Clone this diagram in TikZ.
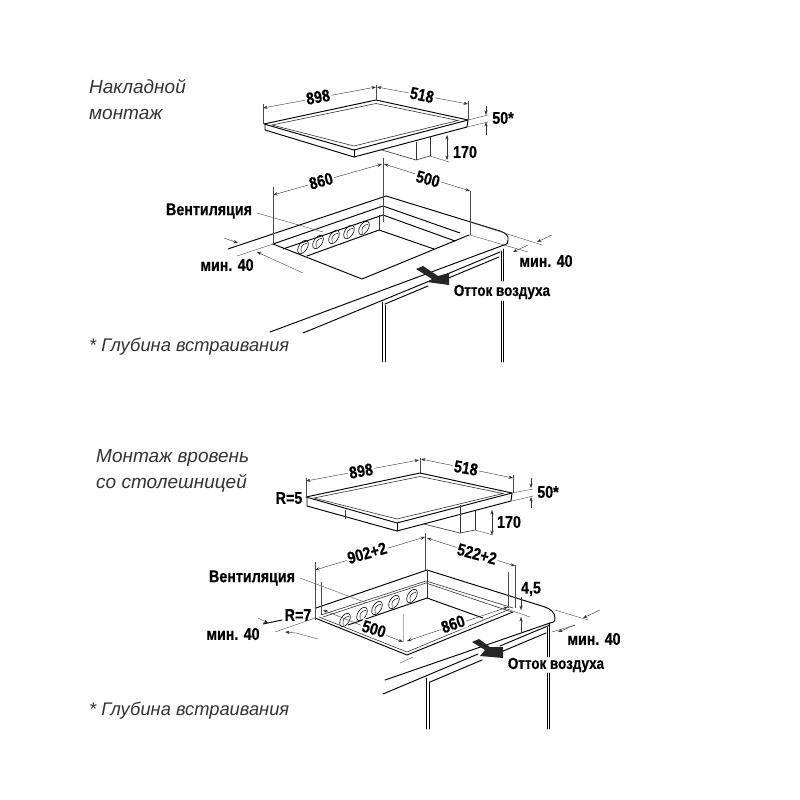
\documentclass[tikz,border=0pt]{standalone}
\usepackage{fontspec}
\setmainfont{Liberation Sans}
\newfontfamily\narrowfont[FakeStretch=0.84,BoldFeatures={FakeStretch=0.84,FakeBold=0.35}]{Liberation Sans}
\usetikzlibrary{arrows.meta}
\tikzset{
  obj/.style={line width=0.95pt,black,line cap=round,line join=round},
  thin obj/.style={line width=0.6pt,black!80},
  extl/.style={line width=0.4pt,black!70},
  dim/.style={line width=0.4pt,black!80,{Stealth[length=4.5pt,width=3.2pt]}-{Stealth[length=4.5pt,width=3.2pt]}},
  dimend/.style={line width=0.4pt,black!80,-{Stealth[length=4.5pt,width=3.2pt]}},
  lab/.style={font=\narrowfont\bfseries\fontsize{17}{19}\selectfont,inner sep=1.5pt,fill=white},
  labn/.style={font=\narrowfont\bfseries\fontsize{17}{19}\selectfont,inner sep=1pt},
  labair/.style={font=\narrowfont\bfseries\fontsize{16}{18}\selectfont,inner sep=1pt},
  title/.style={font=\itshape\fontsize{19}{26}\selectfont,align=left,anchor=north west,inner sep=0pt,black!80},
  foot/.style={font=\itshape\fontsize{18.3}{26}\selectfont,anchor=north west,inner sep=0pt,black!80},
  airflow/.style={fill=black!85,draw=none}
}
\newcommand{\vent}[2]{%
  \draw[line width=0.6pt,shift={(#1,#2)},rotate=58] (0,0) ellipse [x radius=7.4pt,y radius=4.2pt];
  \draw[line width=0.45pt,shift={(#1,#2)},rotate=58] (-5.5,1.5) .. controls (-2,-2.5) and (2,-2.5) .. (5.5,1.5);
}
\begin{document}
\begin{tikzpicture}[x=1pt,y=-1pt]
\useasboundingbox (0,0) rectangle (800,800);
\fill[white] (0,0) rectangle (800,800);

% ===== upper: hob =====
\draw[obj] (264,124) -- (376,100) -- (468,120) -- (354,150) -- cycle;
\draw[thin obj] (272,125) -- (376,103.5) -- (458,120.5) -- (354,146) -- cycle;
\draw[obj] (265,125) -- (265,130) -- (354,157) -- (467,127) -- (468,120);
\draw[obj] (354,150) -- (354,157);
\draw[thin obj] (382,150) -- (416,160) -- (430,156);
\draw[thin obj] (416,142) -- (416,160);
\draw[thin obj] (430,137) -- (430,156);
\draw[extl] (430,156) -- (449,162);
\draw[dim] (447,135) -- (447,160);
\draw[extl] (468,120) -- (488,115);
\draw[extl] (467,127) -- (488,122);
\draw[dimend] (486,106) -- (486,115);
\draw[dimend] (486,135) -- (486,122);
\draw[extl] (263,124) -- (263,104);
\draw[extl] (376,100) -- (376,85);
\draw[extl] (468,120) -- (468,101);
\draw[dim] (263,108) -- (376,87);
\draw[dim] (377,87) -- (468,104);
\node[lab,rotate=10] (a898) at (318,97) {898};
\node[lab,rotate=-12] (a518) at (422,95) {518};
\node[labn] (a170) at (465,152) {170};
\node[labn] (a50) at (503,118) {50*};

% ===== upper: counter =====
\draw[obj] (228,249) -- (386,196) -- (500,231) .. controls (506,233) and (509,236) .. (508,240) .. controls (508,243) and (507,245) .. (504,245) -- (270,332);
\draw[obj] (273,244) -- (362,279) -- (469,235);
\draw[obj] (273,244) -- (383,206) -- (460,233);
\draw[obj] (283,249) -- (383,215) -- (455,241);
\draw[obj] (307,256) -- (379,230) -- (434,249);
\draw[thin obj] (383,206) -- (383,215);
\draw[thin obj] (379,215) -- (379,230);
\draw[obj] (303,333) -- (432,280);
\draw[obj] (440,277) -- (500,252);
\draw[obj] (385,304) -- (428,286);
\draw[obj] (446,279) -- (499,257);
\draw[obj] (382,302) -- (382,362);
\draw[obj] (385.5,305) -- (385.5,362);
\draw[obj] (501,251) -- (501,281);
\draw[obj] (501,301) -- (501,362);
\draw[obj] (503,249) -- (503,281);
\draw[obj] (503,301) -- (503,362);
\vent{303}{247}\vent{318}{242}\vent{334}{237}\vent{349}{232}\vent{364}{228}
\draw[extl] (273,187) -- (273,244);
\draw[extl] (383,158) -- (383,222);
\draw[extl] (470,191) -- (470,235);
\draw[dim] (273,195) -- (382,164);
\draw[dim] (384,164) -- (470,191);
\node[lab,rotate=15] (a860) at (321,181) {860};
\node[lab,rotate=-15] (a500) at (428,179) {500};
\node[labn] (avent) at (209,211) {Вентиляция};
\draw[extl] (257,213) -- (323,232);
% min 40 left
\draw[dimend] (224,238) -- (238,243);
\draw[extl] (237,256) -- (273,244);
\draw[extl] (303,273) -- (270,258);
\draw[dimend] (270,258) -- (257,252);
\node[labn] (amin) at (227,265) {мин. 40};
% min 40 right
\draw[extl] (470,222) -- (542,245);
\draw[extl] (470,235) -- (528,252);
\draw[dimend] (552,235) -- (537,242);
\draw[dimend] (528,245) -- (513,252);
\node[labn] (amax) at (546,261) {мин. 40};
\fill[airflow] (416,269) -- (423,266) -- (438,276) -- (449,273) -- (449,285) -- (427,282) -- (432,279) -- cycle;
\node[labair] (aair) at (502,292) {Отток воздуха};
\node[title] (at1) at (89,79) {Накладной\\монтаж};
\node[foot] (at2) at (89,338) {* Глубина встраивания};

% ===== lower: hob =====
\draw[obj] (306,497) -- (420,473) -- (512,493) -- (397,523) -- cycle;
\draw[thin obj] (314,498) -- (420,476.5) -- (503,493.5) -- (397,519) -- cycle;
\draw[obj] (307,498) -- (307,506) -- (397,531) -- (511,501) -- (512,493);
\draw[obj] (397,523) -- (397,531);
\draw[thin obj] (345,510) -- (345,519);
\draw[thin obj] (424,524) -- (460,533) -- (475,530);
\draw[thin obj] (460,505) -- (460,533);
\draw[thin obj] (475,511) -- (475,530);
\draw[extl] (475,530) -- (493,535);
\draw[dim] (492,510) -- (492,535);
\draw[extl] (512,493) -- (533,489);
\draw[extl] (512,501) -- (533,496);
\draw[dimend] (531,478) -- (531,488);
\draw[dimend] (531,508) -- (531,497);
\draw[extl] (306,497) -- (306,478);
\draw[extl] (420,473) -- (420,458);
\draw[extl] (513,493) -- (513,475);
\draw[dim] (306,481) -- (419,460);
\draw[dim] (421,459) -- (513,478);
\node[lab,rotate=10] (b898) at (361,471) {898};
\node[lab,rotate=-10] (b518) at (466,468) {518};
\node[labn] (b170) at (509,522) {170};
\node[labn] (b50) at (548,492) {50*};
\node[labn] (br5) at (289,498) {R=5};

% ===== lower: counter =====
\draw[obj] (316,608) -- (427,570) -- (545,607) .. controls (551,609) and (555,613) .. (555,618) .. controls (555,622) and (553,623) .. (550,623) -- (385,680);
\draw[obj] (315,618) -- (407,655) -- (513,612);
\draw[thin obj] (319,617) -- (407,652) -- (510,609);
\draw[thin obj] (321,615) -- (426,581) -- (513,608);
\draw[thin obj] (323,617) -- (426,583) -- (512,612);
\draw[obj] (348,625) -- (427,598) -- (483,618);
\draw[thin obj] (427,570) -- (427,598);
\draw[obj] (383,694) -- (478,654);
\draw[obj] (500,646) -- (550,625);
\draw[obj] (430,682) -- (482,660);
\draw[obj] (496,654) -- (546,633);
\draw[obj] (426,678) -- (426,729);
\draw[obj] (429.5,682) -- (429.5,729);
\draw[obj] (547,627) -- (547,657);
\draw[obj] (547,673) -- (547,729);
\draw[obj] (549,623) -- (549,657);
\draw[obj] (549,673) -- (549,729);
\vent{345}{620}\vent{362}{614}\vent{377}{608}\vent{394}{602}\vent{412}{596}
\draw[extl] (315,562) -- (315,620);
\draw[extl] (321,582) -- (321,615);
\draw[extl] (425,533) -- (425,570);
\draw[extl] (515,565) -- (515,608);
\draw[extl] (508,572) -- (508,608);
\draw[black!30,line width=0.4pt] (403,614) -- (403,642);
\draw[dim] (315,570) -- (425,537);
\draw[dim] (427,538) -- (515,566);
\draw[dim] (323,610) -- (403,642);
\draw[dim] (407,641) -- (508,607);
\draw[extl] (400,663) -- (413,657);
\node[lab,rotate=16] (b902) at (367,553) {902+2};
\node[lab,rotate=-15] (b522) at (477,554) {522+2};
\node[lab,rotate=-17] (b500) at (374,629) {500};
\node[lab,rotate=19] (b860) at (453,624) {860};
\draw[dimend] (521,597) -- (521,610);
\draw[dimend] (521,632) -- (521,617);
\draw[extl] (510,610) -- (530,617);
\node[labn] (b45) at (531,589) {4,5};
\node[labn] (bvent) at (252,578) {Вентиляция};
\draw[extl] (300,578) -- (367,603);
% min 40 left
\draw[dimend] (258,618) -- (268,623);
\draw[obj] (263,624) -- (282,620);
\node[labn] (br7) at (298,615) {R=7};
\draw[extl] (275,632) -- (315,618);
\draw[extl] (318,639) -- (296,633);
\draw[dimend] (296,633) -- (285,632);
\node[labn] (bmin) at (233,634) {мин. 40};
% min 40 right
\draw[extl] (555,610) -- (588,620);
\draw[extl] (552,632) -- (575,625);
\draw[dimend] (600,610) -- (583,618);
\draw[dimend] (575,625) -- (558,632);
\node[labn] (bmax) at (594,639) {мин. 40};
\fill[airflow] (472,642) -- (479,639) -- (490,647) -- (503,647) -- (503,658) -- (480,656) -- (485,650) -- cycle;
\node[labair] (bair) at (556,665) {Отток воздуха};
\node[title] (bt1) at (96,449) {Монтаж вровень\\со столешницей};
\node[foot] (bt2) at (89,702) {* Глубина встраивания};
\end{tikzpicture}
\end{document}
